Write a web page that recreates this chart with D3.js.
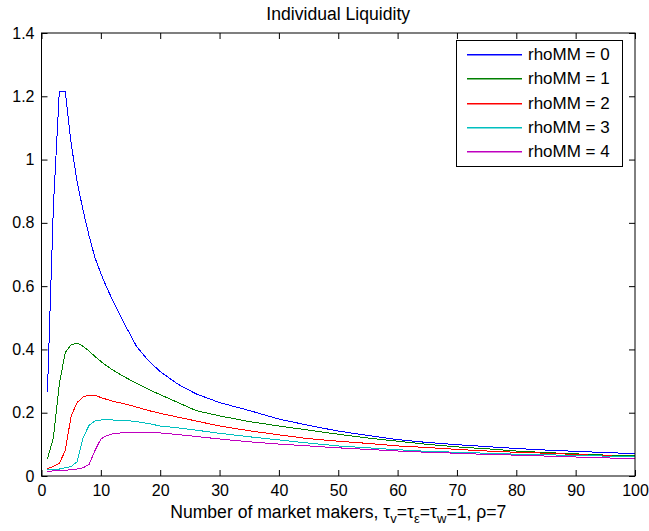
<!DOCTYPE html>
<html>
<head>
<meta charset="utf-8">
<script src="https://cdn.jsdelivr.net/npm/d3@7"></script>
<style>
  body { margin: 0; background: #fff; }
  text { font-family: "Liberation Sans", Arial, sans-serif; fill: #000; }
</style>
</head>
<body>
<div id="chart"></div>
<script>
// number of market makers sampled along the x axis
var makers = [1,2,3,4,5,6,7,8,9,10,11,12,14,16,18,20,23,26,30,35,40,45,50,55,60,65,70,75,80,85,90,95,100]

// individual liquidity, one list per rhoMM
var rho0 = [0.265,0.85,1.215,1.215,1.05,0.93,0.84,0.76,0.69,0.64,0.595,0.555,0.48,0.41,0.365,0.33,0.29,0.26,0.232,0.207,0.18,0.16,0.142,0.128,0.115,0.106,0.099,0.093,0.087,0.082,0.078,0.074,0.071]
var rho1 = [0.055,0.12,0.29,0.39,0.415,0.42,0.41,0.395,0.378,0.362,0.348,0.335,0.313,0.293,0.274,0.257,0.232,0.207,0.19,0.172,0.158,0.145,0.132,0.12,0.11,0.1,0.092,0.086,0.079,0.074,0.07,0.066,0.064]
var rho2 = [0.024,0.03,0.04,0.08,0.19,0.232,0.25,0.256,0.255,0.248,0.242,0.236,0.228,0.218,0.207,0.198,0.186,0.174,0.158,0.143,0.13,0.118,0.11,0.103,0.095,0.09,0.084,0.079,0.075,0.072,0.068,0.064,0.06]
var rho3 = [0.019,0.02,0.022,0.026,0.03,0.045,0.12,0.16,0.174,0.177,0.177,0.177,0.176,0.172,0.166,0.158,0.152,0.145,0.135,0.124,0.114,0.104,0.095,0.089,0.083,0.078,0.075,0.072,0.069,0.067,0.065,0.063,0.062]
var rho4 = [0.015,0.016,0.017,0.018,0.02,0.022,0.026,0.036,0.08,0.117,0.128,0.133,0.138,0.139,0.138,0.136,0.131,0.125,0.117,0.108,0.101,0.095,0.089,0.084,0.079,0.075,0.072,0.068,0.066,0.063,0.06,0.057,0.056]

var seriesNames = ["rhoMM = 0", "rhoMM = 1", "rhoMM = 2", "rhoMM = 3", "rhoMM = 4"]
var seriesColors = ["#0000ff", "#008000", "#ff0000", "#00bfbf", "#bf00bf"]

var xTicks = [0,10,20,30,40,50,60,70,80,90,100]
var yTicks = [0,0.2,0.4,0.6,0.8,1,1.2,1.4]

var W = 649, H = 531
var plot = { left: 41.5, right: 635, top: 33, bottom: 476 }

var svg = d3.select("#chart")
    .append("svg")
        .attr("width", W)
        .attr("height", H)

svg.append("rect")
    .attr("width", W)
    .attr("height", H)
    .attr("fill", "#fff")

var x = d3.scaleLinear().domain([0, 100]).range([plot.left, plot.right])
var y = d3.scaleLinear().domain([0, 1.4]).range([plot.bottom, plot.top])

// lines (aliased, like the matlab export)
var line = d3.line()
    .x(function(d) { return x(d[0]) })
    .y(function(d) { return y(d[1]) })

var allSeries = [rho0, rho1, rho2, rho3, rho4]
svg.append("g")
    .selectAll("path")
    .data(allSeries)
    .join("path")
        .attr("d", function(s) { return line(s.map(function(v, i) { return [makers[i], v] })) })
        .attr("fill", "none")
        .attr("stroke", function(s, i) { return seriesColors[i] })
        .attr("stroke-width", 1)
        .attr("shape-rendering", "crispEdges")

// axes, ticks pointing inward
var fmt = function(d) { return d3.format("~g")(d) }

svg.append("g")
    .attr("transform", "translate(0," + plot.bottom + ")")
    .call(d3.axisBottom(x).tickValues(xTicks).tickSize(-6).tickPadding(9).tickFormat(fmt))
    .call(g => g.select(".domain").remove())
    .selectAll("text").style("font-size", "16px")

svg.append("g")
    .attr("transform", "translate(0," + plot.top + ")")
    .call(d3.axisTop(x).tickValues(xTicks).tickSize(-6).tickFormat(""))
    .call(g => g.select(".domain").remove())

svg.append("g")
    .attr("transform", "translate(" + plot.left + ",0)")
    .call(d3.axisLeft(y).tickValues(yTicks).tickSize(-6).tickPadding(7).tickFormat(fmt))
    .call(g => g.select(".domain").remove())
    .selectAll("text").style("font-size", "16px")

svg.append("g")
    .attr("transform", "translate(" + plot.right + ",0)")
    .call(d3.axisRight(y).tickValues(yTicks).tickSize(-6).tickFormat(""))
    .call(g => g.select(".domain").remove())

svg.selectAll(".tick line").attr("stroke", "#000")
svg.selectAll(".tick text").attr("font-family", null)

// box
svg.append("rect")
    .attr("x", plot.left)
    .attr("y", plot.top)
    .attr("width", plot.right - plot.left)
    .attr("height", plot.bottom - plot.top)
    .attr("fill", "none")
    .attr("stroke", "#000")

// title
svg.append("text")
    .attr("x", (plot.left + plot.right) / 2)
    .attr("y", 20)
    .attr("text-anchor", "middle")
    .attr("font-size", "17.6px")
    .text("Individual Liquidity")

// x label with subscripts
var xl = svg.append("text")
    .attr("x", (plot.left + plot.right) / 2)
    .attr("y", 518)
    .attr("text-anchor", "middle")
    .attr("font-size", "17.6px")
xl.append("tspan").text("Number of market makers, \u03c4")
xl.append("tspan").attr("dy", 5).attr("font-size", "13px").text("v")
xl.append("tspan").attr("dy", -5).text("=\u03c4")
xl.append("tspan").attr("dy", 5).attr("font-size", "13px").text("\u03b5")
xl.append("tspan").attr("dy", -5).text("=\u03c4")
xl.append("tspan").attr("dy", 5).attr("font-size", "13px").text("w")
xl.append("tspan").attr("dy", -5).text("=1, \u03c1=7")

// legend
var lg = svg.append("g")
lg.append("rect")
    .attr("x", 456.5)
    .attr("y", 40.5)
    .attr("width", 166)
    .attr("height", 126)
    .attr("fill", "#fff")
    .attr("stroke", "#000")

var entries = lg.selectAll(".entry")
    .data(seriesNames)
    .join("g")
        .attr("class", "entry")
        .attr("transform", function(d, i) { return "translate(0," + Math.round(54 + i * 24.3) + ")" })

entries.append("rect")
    .attr("x", 467)
    .attr("y", 0)
    .attr("width", 55)
    .attr("height", 1.5)
    .attr("fill", function(d, i) { return seriesColors[i] })

entries.append("text")
    .attr("x", 528)
    .attr("dy", "0.36em")
    .attr("font-size", "17px")
    .text(function(d) { return d })
</script>
</body>
</html>
